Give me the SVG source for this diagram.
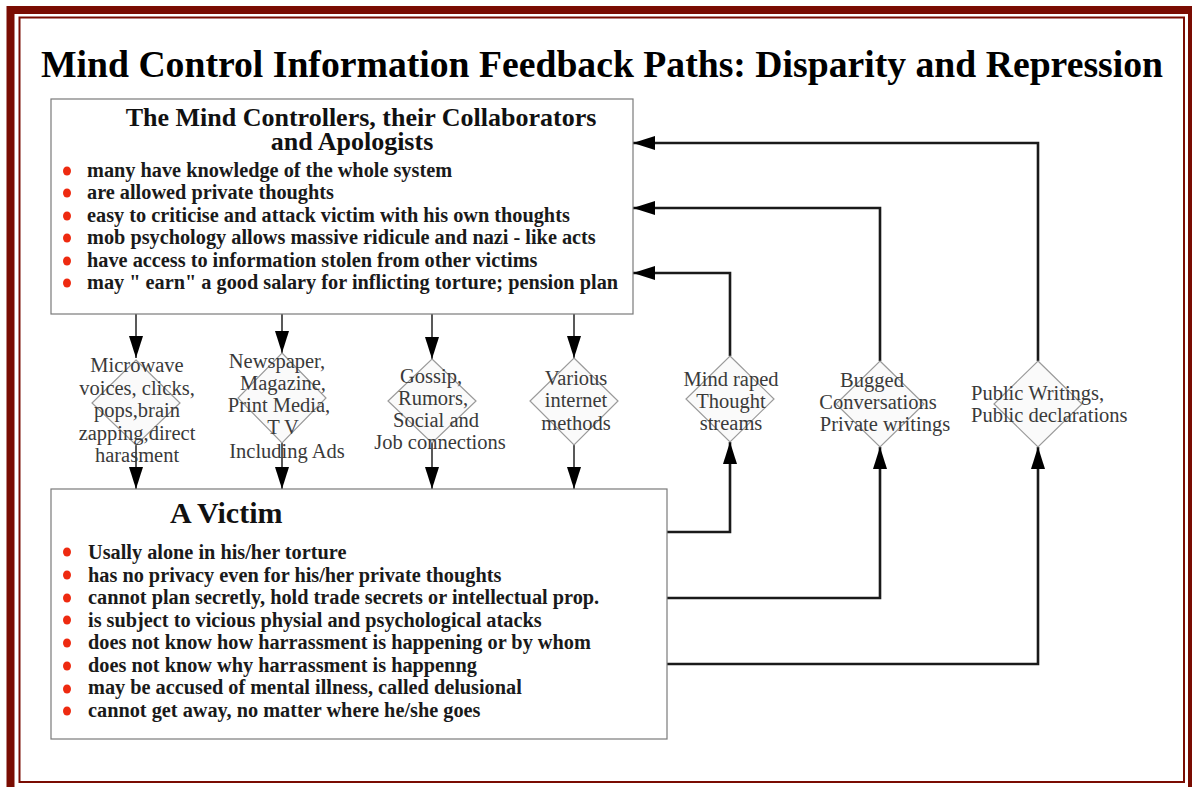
<svg xmlns="http://www.w3.org/2000/svg" width="1192" height="787" viewBox="0 0 1192 787">
<defs>
<style>
.frame{fill:none;stroke:#7a0c02}
.box{fill:#ffffff;stroke:#7a7a7a;stroke-width:1.2}
.dia{fill:#fafafa;stroke:#9a9a9a;stroke-width:1.2}
.title{font-family:"Liberation Serif","Times New Roman",serif;font-weight:bold;fill:#000}
.head{font-family:"Liberation Serif","Times New Roman",serif;font-weight:bold;font-size:26px;fill:#111}
.item{font-family:"Liberation Serif","Times New Roman",serif;font-weight:bold;font-size:20.3px;fill:#1a1a1a}
.lbl{font-family:"Liberation Serif","Times New Roman",serif;font-size:20.5px;fill:#3a3a3a;text-anchor:middle}
.lbl.start{text-anchor:start}
.dot{fill:#ee2a10}
.thin{fill:none;stroke:#222;stroke-width:1.5}
.thick{fill:none;stroke:#1a1a1a;stroke-width:2.6}
</style>
<marker id="ah" viewBox="0 0 22 14" refX="22" refY="7" markerWidth="22" markerHeight="14" markerUnits="userSpaceOnUse" orient="auto">
<path d="M0,0 L22,7 L0,14 z" fill="#000"/>
</marker>
</defs>
<rect width="1192" height="787" fill="#ffffff"/>
<g id="frame">
<rect class="frame" x="10.5" y="10" width="1181.5" height="790" stroke-width="8"/>
<rect class="frame" x="19.5" y="17.5" width="1164.5" height="764.5" stroke-width="2"/>
</g>
<text id="title" class="title" x="41" y="77" font-size="37.6" textLength="1122" lengthAdjust="spacingAndGlyphs">Mind Control Information Feedback Paths: Disparity and Repression</text>

<g id="connectors">
<path class="thin" d="M136,314 V358" marker-end="url(#ah)"/>
<path class="thin" d="M282,314 V353" marker-end="url(#ah)"/>
<path class="thin" d="M432,314 V359" marker-end="url(#ah)"/>
<path class="thin" d="M574,314 V358" marker-end="url(#ah)"/>
<path class="thin" d="M136,445 V489" marker-end="url(#ah)"/>
<path class="thin" d="M282,443 V489" marker-end="url(#ah)"/>
<path class="thin" d="M432,443 V489" marker-end="url(#ah)"/>
<path class="thin" d="M574,445 V489" marker-end="url(#ah)"/>
<path class="thick" d="M667,532 H730 V442" marker-end="url(#ah)"/>
<path class="thick" d="M667,598 H880 V447" marker-end="url(#ah)"/>
<path class="thick" d="M667,664 H1038 V447" marker-end="url(#ah)"/>
<path class="thick" d="M730,356 V273 H633" marker-end="url(#ah)"/>
<path class="thick" d="M880,361 V208 H633" marker-end="url(#ah)"/>
<path class="thick" d="M1038,361 V143 H633" marker-end="url(#ah)"/>
</g>

<g id="controllers">
<rect class="box" x="51" y="99" width="582" height="215"/>
<text class="head" x="361" y="126" text-anchor="middle">The Mind Controllers, their Collaborators</text>
<text class="head" x="352" y="150" text-anchor="middle">and Apologists</text>
<ellipse class="dot" cx="67" cy="171" rx="4" ry="4.5"/>
<ellipse class="dot" cx="67" cy="193" rx="4" ry="4.5"/>
<ellipse class="dot" cx="67" cy="216" rx="4" ry="4.5"/>
<ellipse class="dot" cx="67" cy="238" rx="4" ry="4.5"/>
<ellipse class="dot" cx="67" cy="261" rx="4" ry="4.5"/>
<ellipse class="dot" cx="67" cy="283" rx="4" ry="4.5"/>
<text class="item" x="87" y="177">many have knowledge of the whole system</text>
<text class="item" x="87" y="199">are allowed private thoughts</text>
<text class="item" x="87" y="222">easy to criticise and attack victim with his own thoughts</text>
<text class="item" x="87" y="244">mob psychology allows massive ridicule and nazi - like acts</text>
<text class="item" x="87" y="267">have access to information stolen from other victims</text>
<text class="item" x="87" y="289">may " earn" a good salary for inflicting torture; pension plan</text>
</g>

<g id="victim">
<rect class="box" x="51" y="489" width="616" height="250"/>
<text class="head" x="170" y="523" style="font-size:30px">A Victim</text>
<ellipse class="dot" cx="67" cy="552" rx="4" ry="4.5"/>
<ellipse class="dot" cx="67" cy="575" rx="4" ry="4.5"/>
<ellipse class="dot" cx="67" cy="598" rx="4" ry="4.5"/>
<ellipse class="dot" cx="67" cy="620" rx="4" ry="4.5"/>
<ellipse class="dot" cx="67" cy="643" rx="4" ry="4.5"/>
<ellipse class="dot" cx="67" cy="666" rx="4" ry="4.5"/>
<ellipse class="dot" cx="67" cy="689" rx="4" ry="4.5"/>
<ellipse class="dot" cx="67" cy="711" rx="4" ry="4.5"/>
<text class="item" x="88" y="559">Usally alone in his/her torture</text>
<text class="item" x="88" y="582">has no privacy even for his/her private thoughts</text>
<text class="item" x="88" y="604">cannot plan secretly, hold trade secrets or intellectual prop.</text>
<text class="item" x="88" y="627">is subject to vicious physial and psychological atacks</text>
<text class="item" x="88" y="649">does not know how harrassment is happening or by whom</text>
<text class="item" x="88" y="672">does not know why harrassment is happenng</text>
<text class="item" x="88" y="694">may be accused of mental illness, called delusional</text>
<text class="item" x="88" y="717">cannot get away, no matter where he/she goes</text>
</g>

<g id="microwave">
<path class="dia" d="M136,360 L180,403 L136,445 L92,403 Z"/>
<text class="lbl" x="137" y="372">Microwave</text>
<text class="lbl" x="137" y="395">voices, clicks,</text>
<text class="lbl" x="137" y="417">pops,brain</text>
<text class="lbl" x="137" y="440">zapping,direct</text>
<text class="lbl" x="137" y="462">harasment</text>
</g>
<g id="newspaper">
<path class="dia" d="M282,353 L326,398 L282,443 L238,398 Z"/>
<text class="lbl" x="277" y="368">Newspaper,</text>
<text class="lbl" x="283" y="390">Magazine,</text>
<text class="lbl" x="279" y="412">Print Media,</text>
<text class="lbl" x="283" y="434">T V</text>
<text class="lbl" x="287" y="458">Including Ads</text>
</g>
<g id="gossip">
<path class="dia" d="M432,359 L476,401 L432,443 L388,401 Z"/>
<text class="lbl" x="431" y="383">Gossip,</text>
<text class="lbl" x="433" y="405">Rumors,</text>
<text class="lbl" x="436" y="427">Social and</text>
<text class="lbl" x="440" y="449">Job connections</text>
</g>
<g id="internet">
<path class="dia" d="M574,358 L618,401 L574,445 L530,401 Z"/>
<text class="lbl" x="576" y="385">Various</text>
<text class="lbl" x="576" y="407">internet</text>
<text class="lbl" x="576" y="430">methods</text>
</g>
<g id="mindraped">
<path class="dia" d="M730,356 L774,399 L730,442 L686,399 Z"/>
<text class="lbl" x="731" y="386">Mind raped</text>
<text class="lbl" x="731" y="408">Thought</text>
<text class="lbl" x="731" y="430">streams</text>
</g>
<g id="bugged">
<path class="dia" d="M880,361 L924,404 L880,447 L836,404 Z"/>
<text class="lbl" x="872" y="387">Bugged</text>
<text class="lbl" x="878" y="409">Conversations</text>
<text class="lbl" x="885" y="431">Private writings</text>
</g>
<g id="public">
<path class="dia" d="M1038,361 L1082,404 L1038,447 L994,404 Z"/>
<text class="lbl start" x="971" y="400">Public Writings,</text>
<text class="lbl start" x="971" y="422">Public declarations</text>
</g>
</svg>
